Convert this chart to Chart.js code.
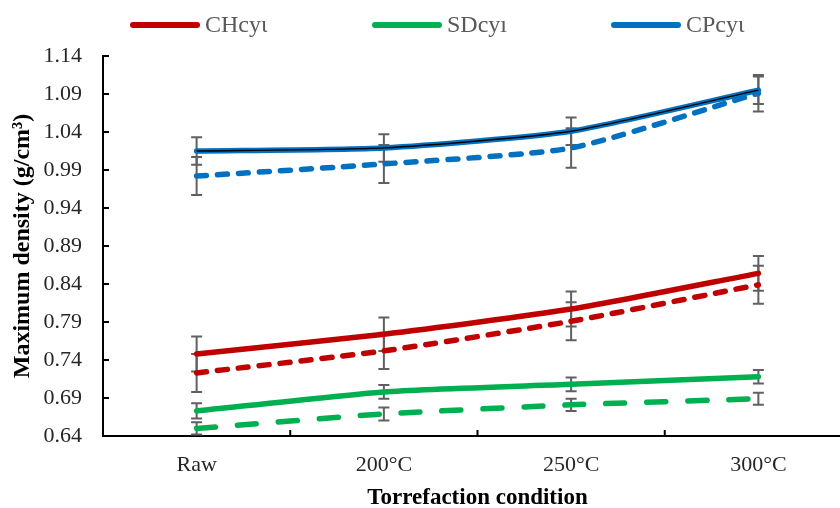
<!DOCTYPE html>
<html>
<head>
<meta charset="utf-8">
<script src="https://cdn.jsdelivr.net/npm/chart.js@4.4.0/dist/chart.umd.min.js"></script>
<style>
  html, body { margin: 0; padding: 0; background: #fff; overflow: hidden; }
  #wrap { width: 852px; height: 508px; position: relative; }
</style>
</head>
<body>
<div id="wrap"><canvas id="chart"></canvas></div>
<script>
const categories = ['Raw', '200°C', '250°C', '300°C'];
const yTicks = [0.64, 0.69, 0.74, 0.79, 0.84, 0.89, 0.94, 0.99, 1.04, 1.09, 1.14];

// values (g/cm3)
const chSolid = [0.748, 0.774, 0.807, 0.854];
const chDashed = [0.723, 0.752, 0.791, 0.839];
const sdSolid = [0.673, 0.698, 0.708, 0.718];
const sdDashed = [0.650, 0.669, 0.681, 0.689];
const cpSolid = [1.015, 1.019, 1.041, 1.095];
const cpDashed = [0.982, 0.998, 1.019, 1.091];

// error bar half-lengths
const chSolidErr = [0.023, 0.022, 0.023, 0.023];
const chDashedErr = [0.025, 0.024, 0.025, 0.025];
const sdSolidErr = [0.010, 0.009, 0.009, 0.009];
const sdDashedErr = [0.008, 0.0085, 0.008, 0.008];
const cpSolidErr = [0.018, 0.018, 0.018, 0.018];
const cpDashedErr = [0.025, 0.025, 0.026, 0.024];

const RED = '#C00000', GREEN = '#00B050', BLUE = '#0070C0';
const SERIF = '"Liberation Serif", "Times New Roman", serif';

// order: lower numbers are drawn on top
function line(label, data, color, dash, errors, legend, order) {
  return {
    label: label,
    data: data,
    borderColor: color,
    backgroundColor: color,
    borderWidth: 5.5,
    borderDash: dash,
    borderCapStyle: 'round',
    borderJoinStyle: 'round',
    pointRadius: 0,
    tension: 0.2,
    errors: errors,
    legend: legend,
    order: order
  };
}

const datasets = [
  line('CHcyι', chSolid, RED, [], chSolidErr, true, 6),
  line('CHcyι dashed', chDashed, RED, [10, 11], chDashedErr, false, 5),
  line('SDcyı', sdSolid, GREEN, [], sdSolidErr, true, 4),
  line('SDcyı dashed', sdDashed, GREEN, [19, 22], sdDashedErr, false, 3),
  line('CPcyι', cpSolid, BLUE, [], cpSolidErr, true, 2),
  line('CPcyι dashed', cpDashed, BLUE, [10, 11], cpDashedErr, false, 1),
];
// thin black line on top of the solid blue one
datasets.push({
  label: 'CPcyι outline', data: cpSolid, borderColor: '#000', borderWidth: 1.3,
  pointRadius: 0, tension: 0.2, legend: false, order: 0
});

const errorBars = {
  id: 'errorBars',
  beforeDatasetsDraw(chart) {
    const { ctx, scales: { x, y } } = chart;
    ctx.save();
    ctx.strokeStyle = '#606060';
    ctx.lineWidth = 2;
    chart.data.datasets.forEach(ds => {
      if (!ds.errors) return;
      ds.data.forEach((v, j) => {
        const px = x.getPixelForValue(j);
        const top = y.getPixelForValue(v + ds.errors[j]);
        const bot = y.getPixelForValue(v - ds.errors[j]);
        ctx.beginPath();
        ctx.moveTo(px, top); ctx.lineTo(px, bot);
        ctx.moveTo(px - 5.5, top); ctx.lineTo(px + 5.5, top);
        ctx.moveTo(px - 5.5, bot); ctx.lineTo(px + 5.5, bot);
        ctx.stroke();
      });
    });
    ctx.restore();
  }
};

// tick marks pointing into the plot
const innerTicks = {
  id: 'innerTicks',
  afterDraw(chart) {
    const { ctx, scales: { x, y } } = chart;
    ctx.save();
    ctx.strokeStyle = '#000';
    ctx.lineWidth = 2;
    ctx.beginPath();
    y.ticks.forEach((t, i) => {
      const py = y.getPixelForTick(i);
      ctx.moveTo(x.left, py); ctx.lineTo(x.left + 6, py);
    });
    for (let i = 1; i < categories.length; i++) {
      const px = (x.getPixelForValue(i - 1) + x.getPixelForValue(i)) / 2;
      ctx.moveTo(px, y.bottom); ctx.lineTo(px, y.bottom - 6);
    }
    ctx.stroke();
    ctx.restore();
  }
};

// legend row at the top
const topLegend = {
  id: 'topLegend',
  afterDraw(chart) {
    const { ctx } = chart;
    const starts = [130, 372, 611];
    ctx.save();
    ctx.font = '24px ' + SERIF;
    ctx.textBaseline = 'middle';
    chart.data.datasets.filter(ds => ds.legend).forEach((ds, i) => {
      const x0 = starts[i], yy = 25;
      ctx.strokeStyle = ds.borderColor;
      ctx.lineWidth = 6;
      ctx.lineCap = 'round';
      ctx.beginPath();
      ctx.moveTo(x0 + 3, yy); ctx.lineTo(x0 + 67, yy);
      ctx.stroke();
      ctx.fillStyle = '#595959';
      ctx.fillText(ds.label, x0 + 75, yy + 1);
    });
    ctx.restore();
  }
};

new Chart(document.getElementById('chart'), {
  type: 'line',
  data: { labels: categories, datasets: datasets },
  plugins: [errorBars, innerTicks, topLegend],
  options: {
    responsive: true,
    maintainAspectRatio: false,
    animation: false,
    layout: { padding: { top: 56, left: 0, right: 0, bottom: 0 } },
    plugins: { legend: { display: false }, tooltip: { enabled: false } },
    scales: {
      x: {
        offset: true,
        grid: { display: false, drawTicks: false },
        border: { display: true, color: '#000', width: 2 },
        ticks: { color: '#262626', font: { family: SERIF, size: 22 }, padding: 16, maxRotation: 0 },
        title: { display: true, text: 'Torrefaction condition', color: '#000',
                 font: { family: SERIF, size: 23, weight: 'bold', lineHeight: 0.9 }, padding: 0 },
        afterFit(scale) { scale.height = 72; }
      },
      y: {
        min: 0.64,
        max: 1.14,
        afterBuildTicks(scale) { scale.ticks = yTicks.map(v => ({ value: v })); },
        grid: { display: false, drawTicks: false },
        border: { display: true, color: '#000', width: 2 },
        ticks: { color: '#262626', font: { family: SERIF, size: 22 }, padding: 21,
                 callback: v => Number(v).toFixed(2) },
        title: { display: true, text: 'Maximum density (g/cm³)', color: '#000',
                 font: { family: SERIF, size: 24, weight: 'bold', lineHeight: 1.2 }, padding: { top: 8, bottom: 0 } },
        afterFit(scale) { scale.width = 103; }
      }
    }
  }
});
</script>
</body>
</html>
